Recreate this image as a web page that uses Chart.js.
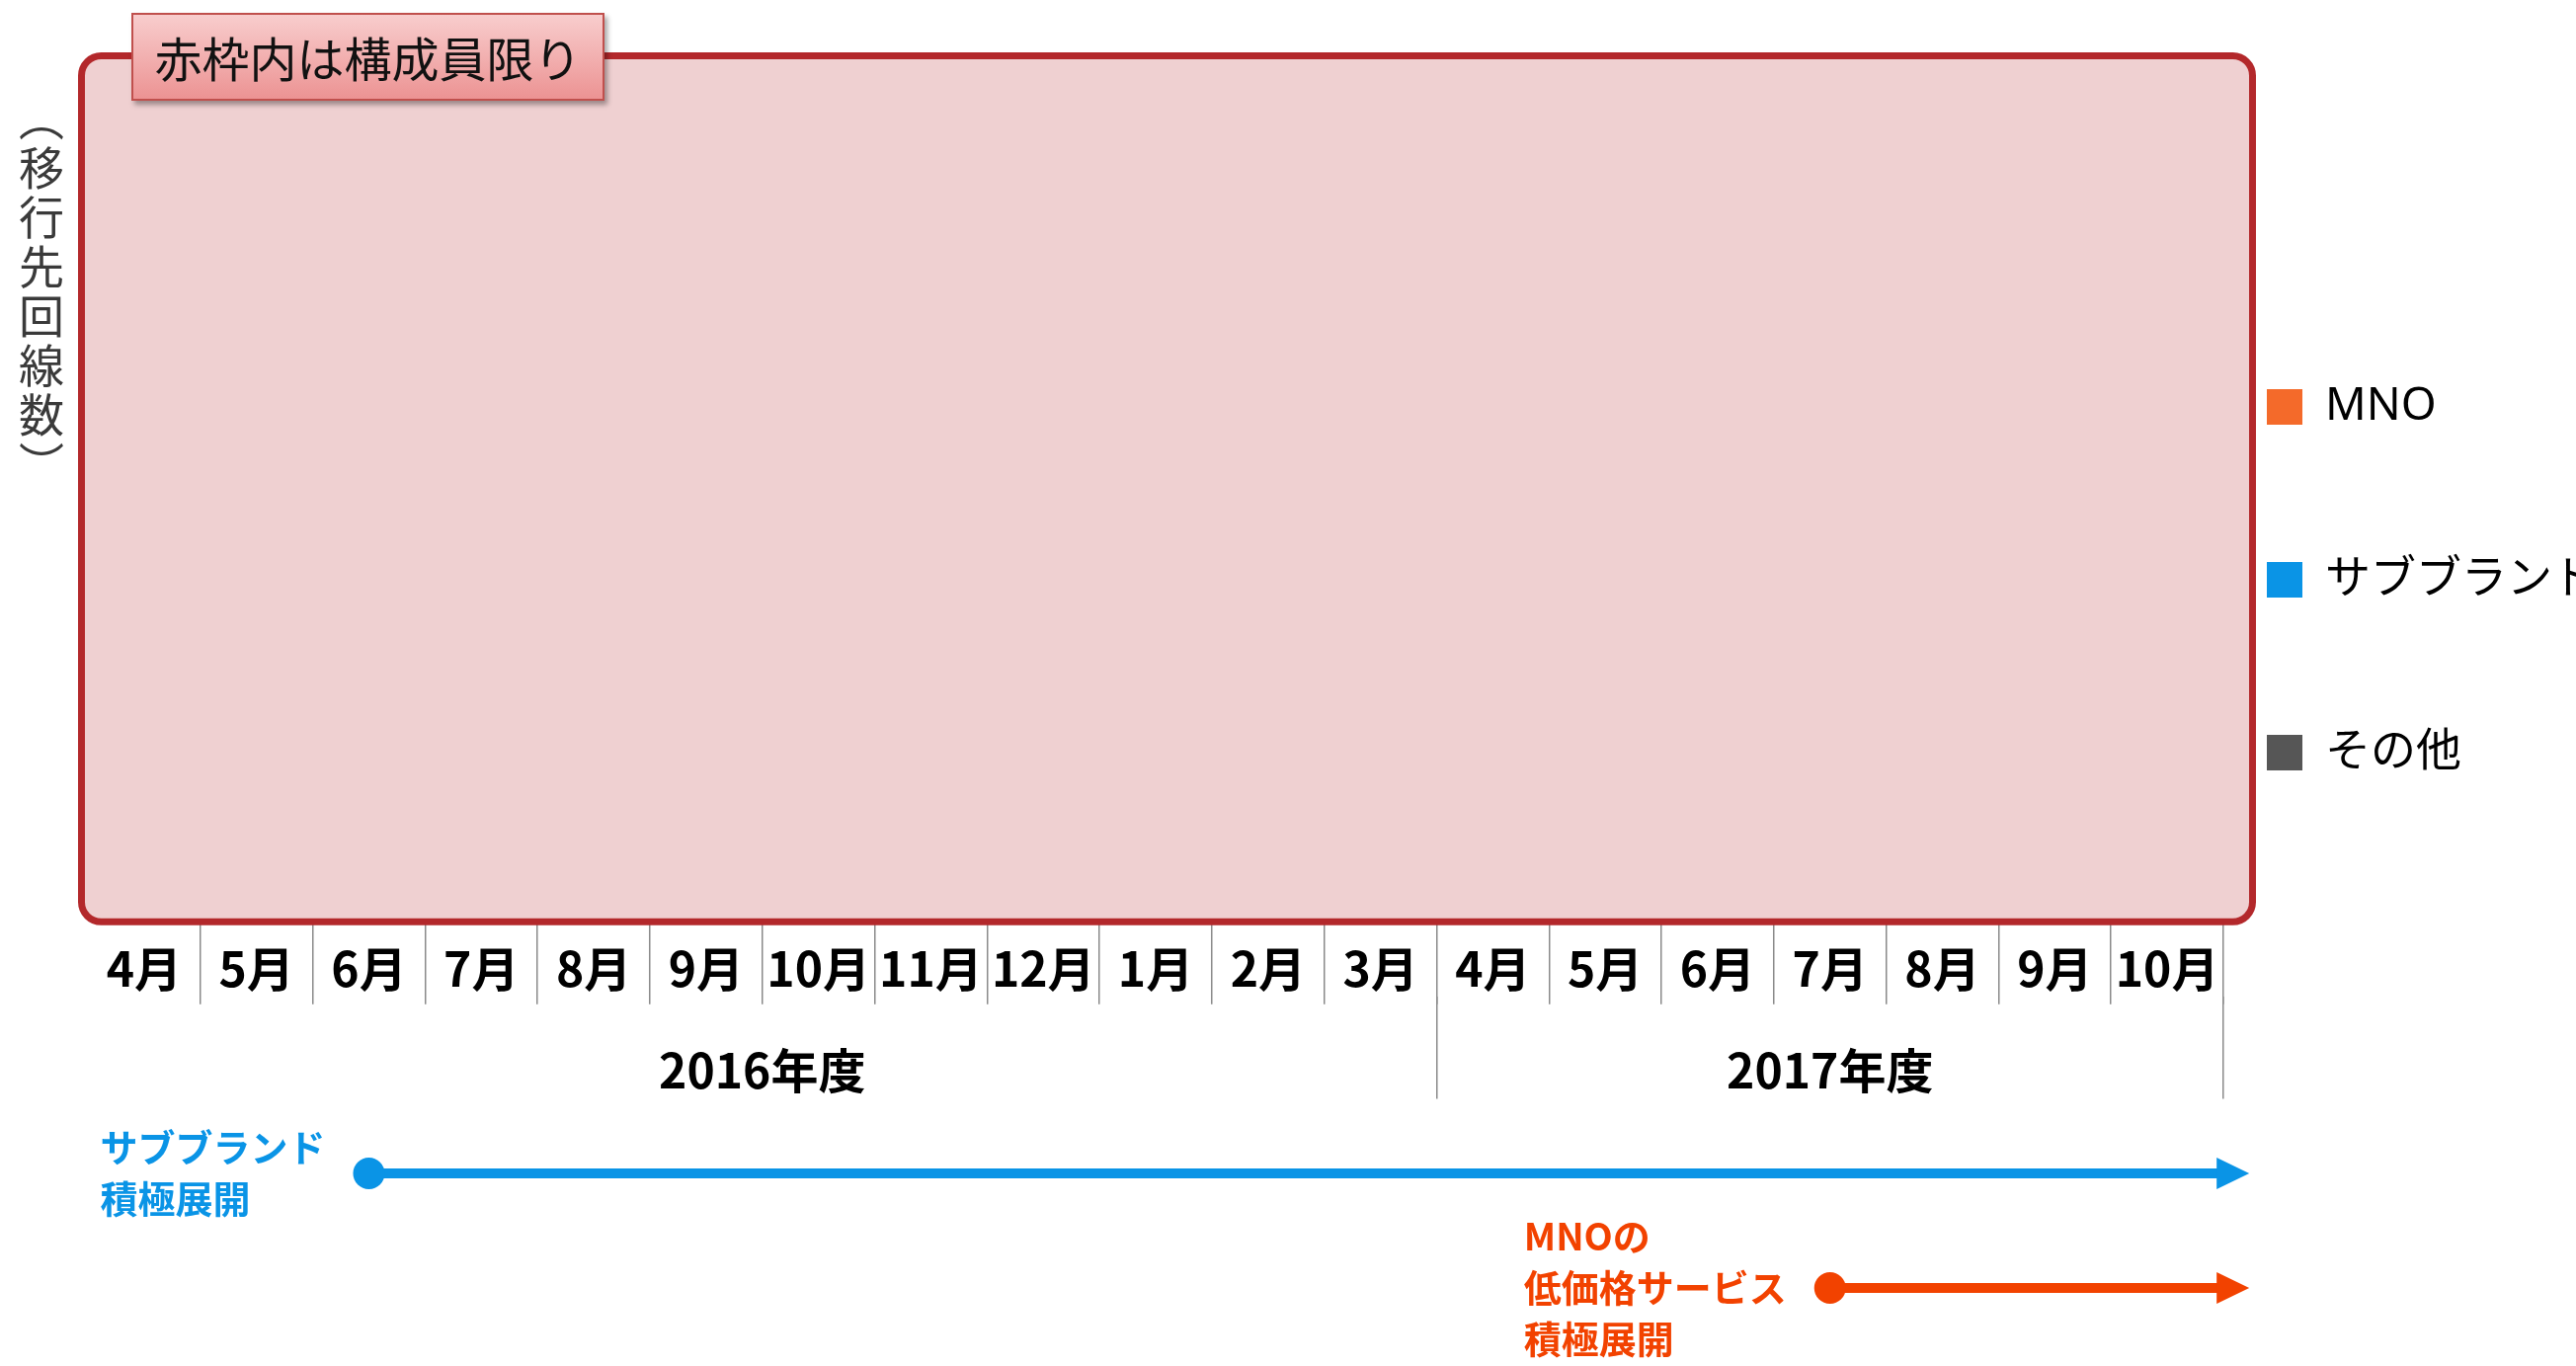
<!DOCTYPE html>
<html lang="ja">
<head>
<meta charset="utf-8">
<title>移行先回線数の推移</title>
<script src="https://cdn.jsdelivr.net/npm/chart.js@4.4.1/dist/chart.umd.min.js"></script>
<style>
  html, body { margin: 0; padding: 0; background: #fff; }
  body { width: 2608px; height: 1383px; position: relative; overflow: hidden;
         font-family: 'Noto Sans CJK JP', 'Noto Sans', sans-serif; }
  #wrap { position: absolute; left: 0; top: 0; width: 2608px; height: 1383px; }
  .y-title { position: absolute; left: 19px; top: 97px; writing-mode: vertical-rl;
             font-size: 46px; line-height: 46px; letter-spacing: 4px; color: #3a3a3a; }
  .notice { position: absolute; left: 133px; top: 13px; width: 479px; height: 89px;
            box-sizing: border-box; border: 2px solid #c0504d;
            background: linear-gradient(#f8cdcd, #ec9393);
            box-shadow: 3px 4px 5px rgba(0,0,0,.35);
            font-size: 48px; line-height: 84px; text-align: center; color: #111; }
</style>
</head>
<body>
<div id="wrap"><canvas id="chart"></canvas></div>
<div class="y-title">（移行先回線数）</div>
<div class="notice">赤枠内は構成員限り</div>
<script>
const FONT = "'Noto Sans CJK JP', 'Noto Sans', sans-serif";
const LEGEND_FONT = "'Noto Sans', 'Noto Sans CJK JP', sans-serif";

// x axis – months of FY2016 and FY2017
const months = ['4月','5月','6月','7月','8月','9月','10月','11月','12月','1月','2月','3月',
                '4月','5月','6月','7月','8月','9月','10月'];
const fiscalYears   = ['2016年度', '2017年度'];
const monthsPerYear = [12, 7];

// series – the values sit under the red mask in the source, so none can be read
const seriesNames  = ['MNO', 'サブブランド', 'その他'];
const seriesColors = ['#f46a2a', '#0a94e6', '#565656'];
const mnoValues    = [null,null,null,null,null,null,null,null,null,null,null,null,null,null,null,null,null,null,null];
const subValues    = [null,null,null,null,null,null,null,null,null,null,null,null,null,null,null,null,null,null,null];
const otherValues  = [null,null,null,null,null,null,null,null,null,null,null,null,null,null,null,null,null,null,null];

// timeline arrows under the axis (start = month index, end = just past 10月)
const timelineText   = [['サブブランド', '積極展開'], ['MNOの', '低価格サービス', '積極展開']];
const timelineStart  = [2, 15];
const timelineEnd    = [18.73, 18.73];
const timelineColors = ['#0a94e6', '#f24200'];

// fiscal-year ticks: centre of each year (label) and its right boundary (line)
const yearTicks = [];
let acc = 0;
monthsPerYear.forEach((n, i) => {
  yearTicks.push({ value: acc + n / 2, label: fiscalYears[i] });
  acc += n;
  yearTicks.push({ value: acc, label: '' });
});

const maskBox = {
  id: 'maskBox',
  afterDatasetsDraw(chart) {
    const { ctx, chartArea: a } = chart;
    const lw = 7;
    const l = a.left - 10 + lw / 2, r = a.right + 33 - lw / 2;
    const t = a.top - 7 + lw / 2,   b = a.bottom + 2 - lw / 2;
    ctx.save();
    ctx.beginPath();
    ctx.roundRect(l, t, r - l, b - t, 20);
    ctx.fillStyle = '#efd0d1';
    ctx.fill();
    ctx.lineWidth = lw;
    ctx.strokeStyle = '#b3282b';
    ctx.stroke();
    ctx.restore();
  }
};

const timeline = {
  id: 'timeline',
  afterDraw(chart) {
    const { ctx } = chart;
    const xs = chart.scales.x;
    const base = chart.scales.x2.bottom;
    ctx.save();
    ctx.textBaseline = 'middle';
    ctx.textAlign = 'left';
    ctx.font = `bold 38px ${FONT}`;
    timelineText.forEach((lines, i) => {
      const y  = base + 75 + i * 116;
      const x0 = xs.getPixelForValue(timelineStart[i]);
      const x1 = xs.getPixelForValue(timelineEnd[i]);
      ctx.fillStyle = ctx.strokeStyle = timelineColors[i];
      ctx.lineWidth = 10;
      ctx.beginPath(); ctx.moveTo(x0, y); ctx.lineTo(x1 - 28, y); ctx.stroke();
      ctx.beginPath(); ctx.arc(x0, y, 16, 0, Math.PI * 2); ctx.fill();
      ctx.beginPath();
      ctx.moveTo(x1, y); ctx.lineTo(x1 - 33, y - 16); ctx.lineTo(x1 - 33, y + 16);
      ctx.closePath(); ctx.fill();
      const w  = Math.max(...lines.map(s => ctx.measureText(s).width));
      const tx = x0 - 44 - w;
      lines.forEach((s, k) => ctx.fillText(s, tx, y + (k - (lines.length - 1) / 2) * 52));
    });
    ctx.restore();
  }
};

new Chart(document.getElementById('chart'), {
  type: 'bar',
  data: {
    labels: months,
    datasets: [
      { label: seriesNames[0], data: mnoValues,   backgroundColor: seriesColors[0] },
      { label: seriesNames[1], data: subValues,   backgroundColor: seriesColors[1] },
      { label: seriesNames[2], data: otherValues, backgroundColor: seriesColors[2] },
    ]
  },
  options: {
    responsive: true, maintainAspectRatio: false, animation: false, devicePixelRatio: 1,
    layout: { padding: { left: 89, top: 60, right: 0, bottom: 270 } },
    plugins: {
      tooltip: { enabled: false },
      legend: {
        position: 'right', align: 'start', maxWidth: 357,
        // empty title pushes the first item down to the middle band
        title: { display: true, text: '', padding: { top: 273, bottom: 0 }, font: { size: 10 } },
        labels: {
          boxWidth: 36, boxHeight: 36, padding: 44, color: '#000',
          font: { family: LEGEND_FONT, size: 46, lineHeight: 131 / 46 },
          generateLabels: chart => chart.data.datasets.map((ds, i) => ({
            text: [ds.label], fillStyle: ds.backgroundColor, strokeStyle: ds.backgroundColor,
            lineWidth: 0, hidden: false, datasetIndex: i, fontColor: '#000'
          }))
        }
      }
    },
    scales: {
      x: {
        stacked: true, offset: true, weight: 0,
        border: { display: false },
        // empty title only reserves room so the tick labels are not clipped
        title: { display: true, text: '', font: { size: 10 }, padding: { top: 0, bottom: 53 } },
        grid: { offset: true, drawOnChartArea: false, tickLength: 82, lineWidth: 1.5,
                color: c => c.index === 0 ? 'rgba(0,0,0,0)' : '#8a8a8a' },
        ticks: { autoSkip: false, maxRotation: 0, padding: -65, color: '#000',
                 font: { family: FONT, size: 48, weight: 'bold' } }
      },
      x2: {
        type: 'linear', position: 'bottom', min: 0, max: months.length, weight: 1,
        offset: false,
        border: { display: false },
        title: { display: true, text: '', font: { size: 10 }, padding: { top: 0, bottom: 45 } },
        afterBuildTicks: s => { s.ticks = yearTicks.map(t => ({ value: t.value })); },
        grid: { offset: false, drawOnChartArea: false, tickLength: 103, lineWidth: 1.5,
                color: c => c.index % 2 === 0 ? 'rgba(0,0,0,0)' : '#8a8a8a' },
        ticks: { autoSkip: false, maxRotation: 0, padding: -57, color: '#000',
                 font: { family: FONT, size: 48, weight: 'bold' },
                 callback: (v, i) => yearTicks[i] ? yearTicks[i].label : '' }
      },
      y: { display: false, stacked: true, beginAtZero: true }
    }
  },
  plugins: [maskBox, timeline]
});
</script>
</body>
</html>
